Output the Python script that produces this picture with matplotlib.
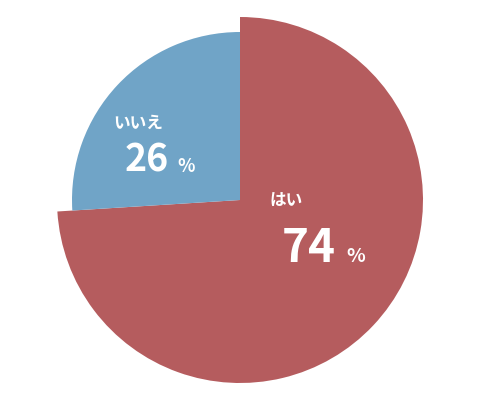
import matplotlib.pyplot as plt

plt.rcParams['font.family'] = ['Noto Sans CJK JP', 'DejaVu Sans']

# データ
labels = ["はい", "いいえ"]
values = [74, 26]
colors = ["#b55c5e", "#70a4c7"]

H = 400  # 画像の高さ（ピクセル座標→データ座標の変換用）

fig = plt.figure(figsize=(4.8, 4.0), dpi=100)
ax = fig.add_axes([0, 0, 1, 1])

# 円グラフ（上から時計回り）
wedges, _ = ax.pie(values, colors=colors, startangle=90, counterclock=False,
                   radius=183, center=(240, 200), frame=True)
ax.set_xlim(0, 480)
ax.set_ylim(0, H)
ax.set_aspect('equal')
ax.axis('off')
# 「いいえ」は少し小さい半径
wedges[1].set_radius(168)

# ラベル
ax.text(113, H - 123, labels[1], color="white", fontsize=12, fontweight="bold",
        ha="left", va="center")
ax.text(125, H - 172, str(values[1]), color="white", fontsize=27, fontweight="bold",
        ha="left", va="baseline")
ax.text(177, H - 172, "%", color="white", fontsize=13, fontweight="bold",
        ha="left", va="baseline")

ax.text(269, H - 201, labels[0], color="white", fontsize=12, fontweight="bold",
        ha="left", va="center")
ax.text(282, H - 262, str(values[0]), color="white", fontsize=33, fontweight="bold",
        ha="left", va="baseline")
ax.text(346, H - 262, "%", color="white", fontsize=14, fontweight="bold",
        ha="left", va="baseline")

fig.savefig("out.png", dpi=100)
